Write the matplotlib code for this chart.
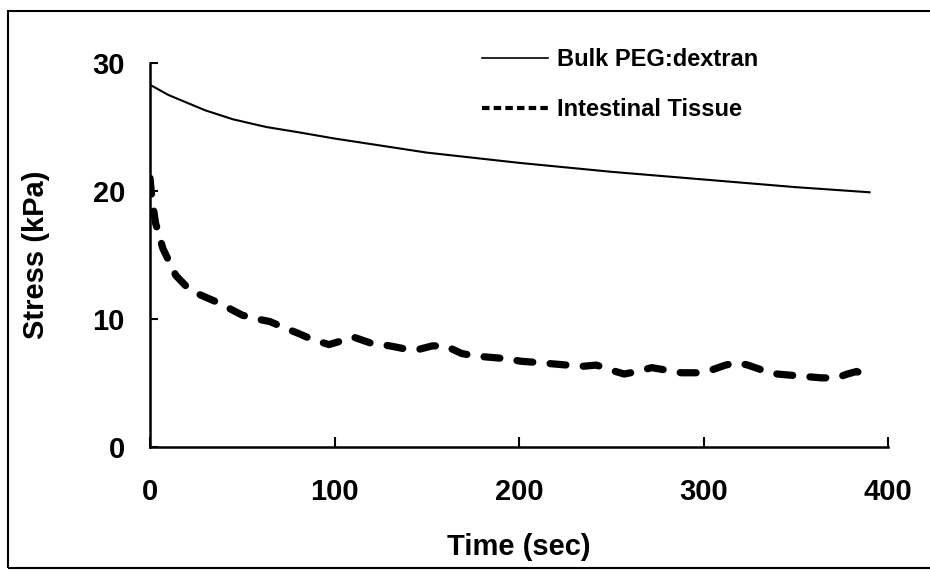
import numpy as np
import matplotlib
matplotlib.use("Agg")
from matplotlib import pyplot as plt
from matplotlib.lines import Line2D
from matplotlib.patches import Rectangle

### stress relaxation data
bulk_time = [0, 5, 10, 20, 30, 45, 63, 80, 100, 150, 200, 250, 300, 350, 390]
bulk_stress = [28.3, 27.9, 27.5, 26.9, 26.3, 25.6, 25.0, 24.6, 24.1, 23.0, 22.2, 21.5, 20.9, 20.3, 19.9]

tissue_time = [0, 1, 3, 7, 14, 20, 27, 35, 42, 50, 58, 65, 73, 80, 88, 97, 104, 110, 120,
               130, 137, 145, 153, 160, 169, 177, 185, 193, 201, 210, 218, 226, 234, 242,
               250, 257, 264, 272, 280, 288, 296, 304, 312, 318, 324, 332, 340, 348, 356,
               364, 372, 378, 383, 388]
tissue_stress = [21.0, 19.5, 17.5, 15.5, 13.4, 12.5, 11.9, 11.4, 10.9, 10.3, 10.0, 9.8, 9.3,
                 8.9, 8.4, 8.0, 8.3, 8.6, 8.1, 7.9, 7.7, 7.6, 7.9, 7.9, 7.3, 7.1, 7.0, 6.9,
                 6.7, 6.6, 6.5, 6.4, 6.3, 6.4, 6.0, 5.7, 5.9, 6.2, 6.0, 5.8, 5.8, 6.0, 6.4,
                 6.6, 6.4, 6.0, 5.7, 5.6, 5.5, 5.4, 5.4, 5.7, 5.9, 5.6]

x_ticks = [0, 100, 200, 300, 400]
y_ticks = [0, 10, 20, 30]

plt.rcParams['font.family'] = ['Liberation Sans', 'DejaVu Sans']
plt.rcParams['font.weight'] = 'bold'

fig = plt.figure(figsize=(9.3, 5.73), dpi=100)
W, H = 930, 573
ax = fig.add_axes([150 / W, 1 - 447 / H, 738 / W, 384 / H])

ax.plot(bulk_time, bulk_stress, color='k', lw=1.5)
ax.plot(tissue_time, tissue_stress, color='k', lw=5.2, dashes=(2.2, 2.4),
        dash_capstyle='round', solid_capstyle='round')

ax.set_xlim(0, 400)
ax.set_ylim(0, 30)
ax.set_xticks(x_ticks)
ax.set_yticks(y_ticks)
for s in ['top', 'right']:
    ax.spines[s].set_visible(False)
for s in ['left', 'bottom']:
    ax.spines[s].set_linewidth(1.8)
ax.tick_params(axis='x', direction='in', length=7, width=1.5, pad=22, labelsize=21)
ax.tick_params(axis='y', direction='in', length=6, width=1.5, pad=18, labelsize=21)
for lab in ax.get_xticklabels() + ax.get_yticklabels():
    lab.set_fontweight('bold')

ax.set_xlabel('Time (sec)', fontsize=21, fontweight='bold')
ax.set_ylabel('Stress (kPa)', fontsize=21, fontweight='bold')
ax.xaxis.set_label_coords(0.5, -0.225)
ax.yaxis.set_label_coords(-0.136, 0.5)

handles = [Line2D([], [], color='k', lw=1.2),
           Line2D([], [], color='k', lw=3, dashes=(1.8, 1.0))]
ax.legend(handles, ['Bulk PEG:dextran', 'Intestinal Tissue'],
          loc='upper left', bbox_to_anchor=(482 / W, 1 - 48 / H),
          bbox_transform=fig.transFigure, frameon=False, borderpad=0,
          borderaxespad=0, handlelength=2.8, handletextpad=0.38,
          labelspacing=1.14, prop={'size': 17, 'weight': 'bold'})

### frame around the whole picture, right side runs off the edge
fig.add_artist(Rectangle((8 / W, 5 / H), 1.05, 557 / H, transform=fig.transFigure,
                         fill=False, lw=1.5, edgecolor='k', clip_on=False))

fig.savefig('out.png', dpi=100)
